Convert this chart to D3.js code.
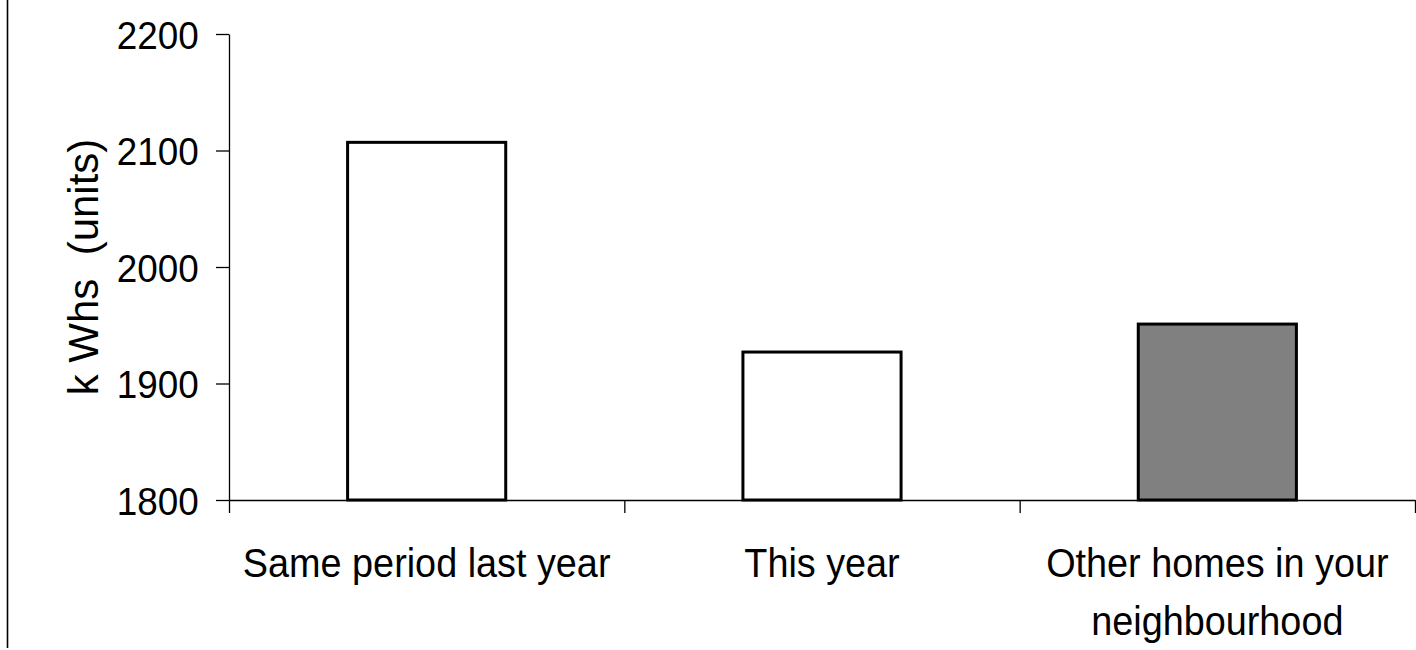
<!DOCTYPE html>
<html>
<head>
<meta charset="utf-8">
<script src="https://cdn.jsdelivr.net/npm/d3@7"></script>
<style>
  html, body { margin: 0; padding: 0; background: #fff; }
  svg { display: block; }
  text { font-family: "Liberation Sans", Arial, sans-serif; fill: #000; }
</style>
</head>
<body>
<svg id="chart" width="1416" height="650"></svg>
<script>
// Electricity use comparison (kWh)
const categories = ["Same period last year", "This year", "Other homes in your|neighbourhood"];
const values = [2107, 1927, 1951];
const barFills = ["#ffffff", "#ffffff", "#808080"];
const yTicks = [1800, 1900, 2000, 2100, 2200];
const yTitle = "k Whs  (units)";

const W = 1416, H = 650;
const plot = { left: 229, right: 1415, top: 34, bottom: 500 };
const squeeze = 0.945; // narrow glyph width

const svg = d3.select("#chart");
svg.append("rect").attr("width", W).attr("height", H).attr("fill", "#fff");

// frame line on the left edge
svg.append("line")
  .attr("x1", 7.5).attr("x2", 7.5).attr("y1", 0).attr("y2", 648)
  .attr("stroke", "#000").attr("stroke-width", 1.6);

const x = d3.scaleBand()
  .domain(categories)
  .range([plot.left, plot.right])
  .paddingInner(0.6)
  .paddingOuter(0.3);

const y = d3.scaleLinear()
  .domain([1800, 2200])
  .range([plot.bottom, plot.top]);

// bars
svg.append("g").selectAll("rect")
  .data(categories)
  .join("rect")
  .attr("x", d => x(d))
  .attr("width", x.bandwidth())
  .attr("y", (d, i) => y(values[i]))
  .attr("height", (d, i) => y(1800) - y(values[i]))
  .attr("fill", (d, i) => barFills[i])
  .attr("stroke", "#000")
  .attr("stroke-width", 3);

// y axis
const yAxis = svg.append("g")
  .attr("transform", `translate(${plot.left},0)`)
  .call(d3.axisLeft(y).tickValues(yTicks).tickSizeInner(13).tickSizeOuter(0).tickPadding(19).tickFormat(d3.format("d")));
yAxis.select(".domain").attr("stroke", "#000").attr("stroke-width", 1.3);
yAxis.selectAll(".tick line").attr("stroke", "#000").attr("stroke-width", 1.3);
yAxis.selectAll(".tick text")
  .attr("font-size", 39)
  .attr("font-family", "Liberation Sans, Arial, sans-serif")
  .attr("dy", "0.36em")
  .attr("transform", `scale(${squeeze},1)`);

// x axis: baseline with ticks at category boundaries
const edges = d3.range(categories.length + 1);
const edgeX = d3.scaleLinear().domain([0, categories.length]).range([plot.left, plot.right]);
const xAxis = svg.append("g")
  .attr("transform", `translate(0,${plot.bottom})`)
  .call(d3.axisBottom(edgeX).tickValues(edges).tickSizeInner(13).tickSizeOuter(0).tickFormat(""));
xAxis.select(".domain").attr("stroke", "#000").attr("stroke-width", 1.3);
xAxis.selectAll(".tick line").attr("stroke", "#000").attr("stroke-width", 1.3);

// category labels
const labels = svg.append("g").selectAll("g")
  .data(categories)
  .join("g")
  .attr("transform", d => `translate(${x(d) + x.bandwidth() / 2},577) scale(${squeeze},1)`);
labels.append("text")
  .attr("text-anchor", "middle")
  .attr("font-size", 40)
  .selectAll("tspan")
  .data(d => d.split("|"))
  .join("tspan")
  .attr("x", 0)
  .attr("y", (d, i) => i * 58)
  .text(d => d);

// y title
svg.append("text")
  .attr("transform", `translate(98,${(plot.top + plot.bottom) / 2}) rotate(-90)`)
  .attr("text-anchor", "middle")
  .attr("font-size", 42)
  .style("white-space", "pre")
  .attr("xml:space", "preserve")
  .text(yTitle);
</script>
</body>
</html>
